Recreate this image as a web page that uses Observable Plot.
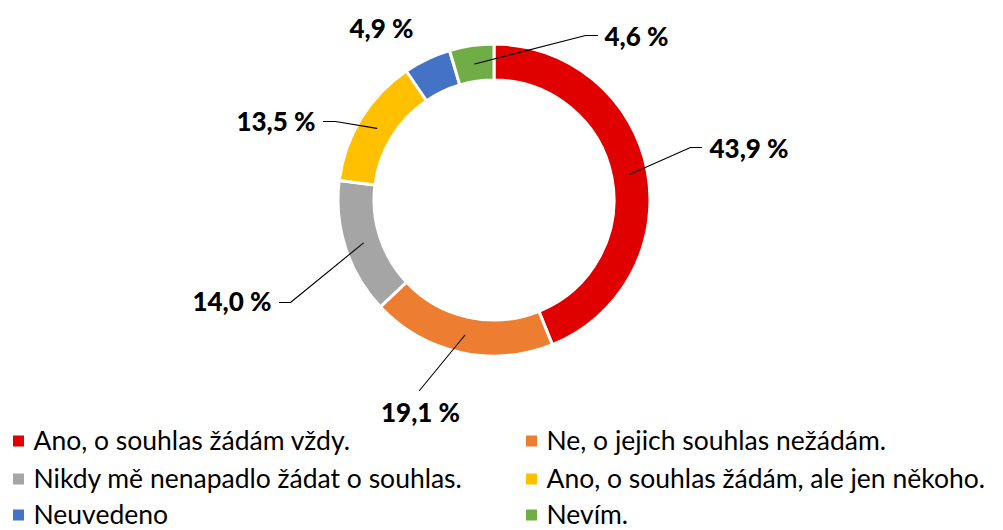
<!DOCTYPE html>
<html>
<head>
<meta charset="utf-8">
<script src="https://cdn.jsdelivr.net/npm/d3@7"></script>
<script src="https://cdn.jsdelivr.net/npm/@observablehq/plot@0.6"></script>
<style>
  html, body { margin: 0; padding: 0; background: #fff; }
  #chart svg { display: block; }
</style>
</head>
<body>
<div id="chart"></div>
<script>
// ---- data ----
const categories = [
  "Ano, o souhlas žádám vždy.",
  "Ne, o jejich souhlas nežádám.",
  "Nikdy mě nenapadlo žádat o souhlas.",
  "Ano, o souhlas žádám, ale jen někoho.",
  "Neuvedeno",
  "Nevím."
];
const values = [43.9, 19.1, 14.0, 13.5, 4.9, 4.6];
const colors = ["#E00000", "#ED7D31", "#A5A5A5", "#FFC000", "#4472C4", "#70AD47"];

// ---- layout (pixels) ----
const W = 1003, H = 530;
const ring = { cx: 494, cy: 200, rOuter: 156, rInner: 120, rLeader: 138 };
const labelLayout = [
  { x: 709, y: 149, anchor: "start",  path: [[690, 147], [701, 147]] },
  { x: 420, y: 413, anchor: "middle", path: [[419, 390]] },
  { x: 271, y: 302, anchor: "end",    path: [[290, 302], [279, 302]] },
  { x: 315, y: 122, anchor: "end",    path: [[335, 121], [323, 121]] },
  { x: 381, y: 29,  anchor: "middle", path: null },
  { x: 604, y: 37,  anchor: "start",  path: [[585, 35], [597, 35]] }
];
const legendLayout = { colX: [13, 526], textDx: 20, rowY: [441, 479, 515], swatch: 11 };

// ---- derived ----
const data = categories.map((c, i) => ({ category: c, value: values[i], i }));
const pie = d3.pie().sort(null).value(d => d.value)(data);
const fmt = v => v.toFixed(1).replace(".", ",") + " %";

const labels = data.map((d, i) => ({ ...d, text: fmt(d.value), ...labelLayout[i] }));

const leaderPts = [];
pie.forEach((p, i) => {
  const L = labelLayout[i];
  if (!L.path) return;
  const a = (p.startAngle + p.endAngle) / 2;
  leaderPts.push({ z: i, x: ring.cx + ring.rLeader * Math.sin(a), y: ring.cy - ring.rLeader * Math.cos(a) });
  L.path.forEach(([x, y]) => leaderPts.push({ z: i, x, y }));
});

const legend = data.map((d, i) => {
  const col = i % 2, row = Math.floor(i / 2);
  const x = legendLayout.colX[col], y = legendLayout.rowY[row];
  const s = legendLayout.swatch;
  return { ...d, x1: x, x2: x + s, y1: y - s / 2, y2: y + s / 2, tx: x + legendLayout.textDx, ty: y };
});

function donut(index, scales) {
  const g = d3.create("svg:g")
    .attr("transform", `translate(${scales.x(ring.cx)},${scales.y(ring.cy)})`);
  const arc = d3.arc().innerRadius(ring.rInner).outerRadius(ring.rOuter);
  g.selectAll("path").data(pie).join("path")
    .attr("d", arc)
    .attr("fill", d => scales.color(d.data.category))
    .attr("stroke", "white")
    .attr("stroke-width", 3)
    .attr("stroke-linejoin", "miter");
  return g.node();
}

const font = "Lato, 'Open Sans', sans-serif";
const labelText = anchor => Plot.text(labels.filter(d => d.anchor === anchor), {
  x: "x", y: "y", text: "text", textAnchor: anchor,
  fontSize: 26, fontWeight: 900, fill: "#000", fontFamily: font
});

const chart = Plot.plot({
  width: W, height: H,
  margin: 0,
  x: { domain: [0, W], range: [0, W], axis: null },
  y: { domain: [0, H], range: [0, H], axis: null },
  color: { domain: categories, range: colors },
  style: { fontFamily: font, background: "white" },
  marks: [
    donut,
    Plot.line(leaderPts, { x: "x", y: "y", z: "z", stroke: "#000", strokeWidth: 1.1 }),
    labelText("start"),
    labelText("middle"),
    labelText("end"),
    Plot.rect(legend, { x1: "x1", x2: "x2", y1: "y1", y2: "y2", fill: "category" }),
    Plot.text(legend, { x: "tx", y: "ty", text: "category", textAnchor: "start",
      fontSize: 26.5, fill: "#000", fontFamily: font })
  ]
});
document.getElementById("chart").appendChild(chart);
</script>
</body>
</html>
